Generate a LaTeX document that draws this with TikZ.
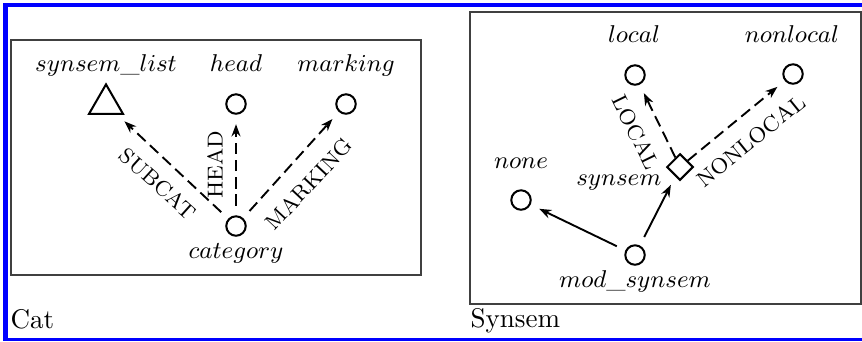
\documentclass[tikz,border=0pt]{standalone}
\usetikzlibrary{arrows.meta,shapes.geometric}
\begin{document}
\begin{tikzpicture}[x=0.37pt,y=-0.37pt,
  vert/.style={circle,draw,line width=0.75pt,minimum size=7.2pt,inner sep=0pt},
  tri/.style={regular polygon,regular polygon sides=3,draw,line width=0.75pt,minimum size=14.5pt,inner sep=0pt},
  dia/.style={diamond,draw,line width=0.75pt,minimum size=9.8pt,inner sep=0pt},
  lbl/.style={anchor=base,inner sep=0pt,font=\fontsize{9.5pt}{11pt}\selectfont},
  feat/.style={font=\footnotesize,inner sep=0pt},
  arr/.style={line width=0.7pt,-{Stealth[length=4.5pt,width=3.3pt]},shorten <=3.5pt,shorten >=3.5pt},
  darr/.style={arr,dash pattern=on 4.2pt off 2.2pt},
  panel/.style={draw=black!75,line width=0.6pt}]
\useasboundingbox (0,0) rectangle (862,341);
% blue frame
\draw[blue,line width=1.5pt] (3,5) -- (862,5);
\draw[blue,line width=1pt] (3,339.5) -- (862,339.5);
\draw[blue,line width=1.85pt] (5.5,3) -- (5.5,341);
% panels
\draw[panel] (11,40) rectangle (421,275);
\draw[panel] (470,12) rectangle (861,304);
\node[anchor=base west,inner sep=0pt] (cattitle) at (10,328) {Cat};
\node[anchor=base west,inner sep=0pt] (sstitle) at (470,327) {Synsem};
% Cat panel
\node[tri] (sl) at (106,104) {};
\node[vert] (hd) at (236,104) {};
\node[vert] (mk) at (346,104) {};
\node[vert] (cat) at (236,226) {};
\node[lbl] (sl-l) at (106,71) {$synsem\_list$};
\node[lbl] (hd-l) at (236,71) {$head$};
\node[lbl] (mk-l) at (346,71) {$marking$};
\node[lbl] (cat-l) at (236,258) {$category$};
\draw[darr] (cat) -- (sl);
\draw[darr] (cat) -- (hd);
\draw[darr] (cat) -- (mk);
\node[feat,rotate=-42] (subcat) at (158,184) {SUBCAT};
\node[feat,rotate=90] (head) at (215,165) {HEAD};
\node[feat,rotate=47] (marking) at (309,184) {MARKING};
% Synsem panel
\node[vert] (loc) at (635,75) {};
\node[vert] (nloc) at (793,74) {};
\node[vert] (none) at (521,200) {};
\node[dia] (ss) at (680,167) {};
\node[vert] (mod) at (635,255) {};
\node[lbl] (loc-l) at (634,42) {$local$};
\node[lbl] (nloc-l) at (792,42) {$nonlocal$};
\node[lbl] (none-l) at (521,168) {$none$};
\node[lbl,anchor=base east] (ss-l) at (662,185) {$synsem$};
\node[lbl] (mod-l) at (635,287) {$mod\_synsem$};
\draw[arr] (mod) -- (none);
\draw[arr] (mod) -- (ss);
\draw[darr,shorten <=0pt] (ss) -- (loc);
\draw[darr,shorten <=0pt] (ss) -- (nloc);
\node[feat,rotate=-64] (local) at (636,132) {LOCAL};
\node[feat,rotate=39] (nonlocal) at (751,141) {NONLOCAL};
\end{tikzpicture}
\end{document}
